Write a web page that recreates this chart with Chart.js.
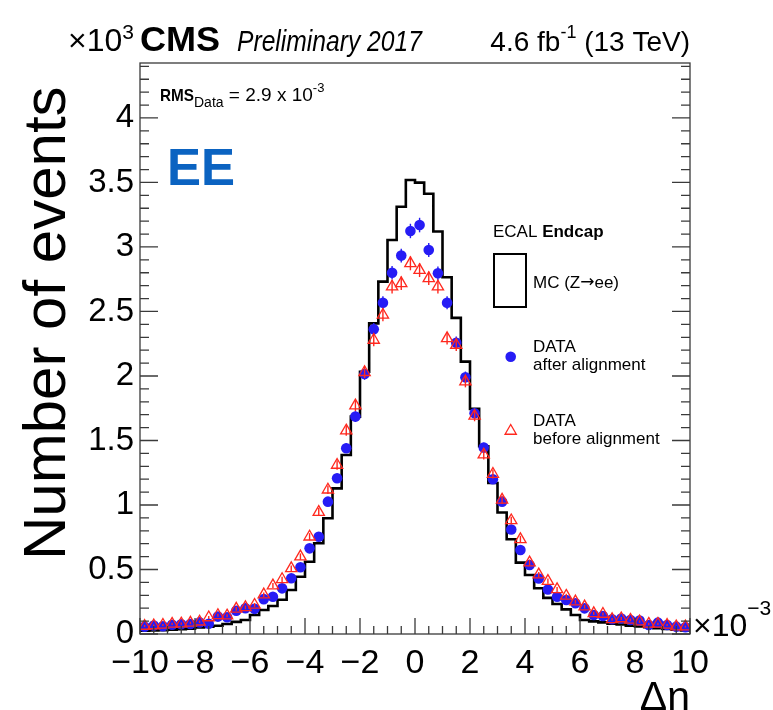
<!DOCTYPE html>
<html><head><meta charset="utf-8">
<script src="https://cdn.jsdelivr.net/npm/chart.js@4/dist/chart.umd.min.js"></script>
<style>html,body{margin:0;padding:0;background:#fff;} canvas{display:block;}</style>
</head><body>
<canvas id="c" width="773" height="710"></canvas>
<script>
// ---- binning (Δη in units of 10^-3) ----
const BIN_LOW = -10;
const BIN_HIGH = 10;
const N_BINS = 60;

// ---- series values (events, in units of 10^3) ----
const mcZee = [
  0.026, 0.028, 0.030, 0.034, 0.038, 0.042, 0.050, 0.056, 0.064, 0.078,
  0.094, 0.109, 0.147, 0.186, 0.217, 0.266, 0.341, 0.444, 0.560, 0.703,
  0.897, 1.129, 1.388, 1.685, 2.033, 2.408, 2.731, 3.054, 3.312, 3.519,
  3.499, 3.413, 3.120, 2.765, 2.450, 2.111, 1.745, 1.455, 1.170, 0.942,
  0.734, 0.553, 0.457, 0.355, 0.280, 0.233, 0.191, 0.147, 0.109, 0.098,
  0.090, 0.080, 0.074, 0.065, 0.058, 0.052, 0.045, 0.040, 0.034, 0.028
];
const dataAfter = [
  0.057, 0.065, 0.060, 0.072, 0.075, 0.078, 0.090, 0.080, 0.135, 0.130,
  0.180, 0.200, 0.195, 0.270, 0.289, 0.354, 0.432, 0.517, 0.664, 0.754,
  1.026, 1.207, 1.440, 1.685, 2.015, 2.362, 2.568, 2.800, 2.933, 3.124,
  3.170, 2.977, 2.796, 2.568, 2.258, 1.990, 1.711, 1.445, 1.200, 1.026,
  0.810, 0.651, 0.535, 0.430, 0.345, 0.289, 0.264, 0.238, 0.199, 0.147,
  0.140, 0.114, 0.120, 0.109, 0.104, 0.070, 0.088, 0.070, 0.057, 0.052
];
const dataBefore = [
  0.062, 0.066, 0.070, 0.078, 0.080, 0.086, 0.095, 0.128, 0.145, 0.142,
  0.195, 0.206, 0.225, 0.305, 0.375, 0.424, 0.509, 0.600, 0.754, 0.945,
  1.118, 1.310, 1.576, 1.770, 2.029, 2.279, 2.473, 2.692, 2.718, 2.873,
  2.820, 2.757, 2.692, 2.292, 2.240, 1.956, 1.690, 1.390, 1.240, 1.040,
  0.880, 0.734, 0.553, 0.460, 0.410, 0.346, 0.295, 0.251, 0.212, 0.160,
  0.155, 0.114, 0.120, 0.109, 0.096, 0.078, 0.078, 0.070, 0.057, 0.057
];

// ---- axis ticks ----
const xTickValues = [-10, -8, -6, -4, -2, 0, 2, 4, 6, 8, 10];
const yTickValues = [0, 0.5, 1, 1.5, 2, 2.5, 3, 3.5, 4];
const Y_MAX = 4.426;

// ---- derived tables for the library ----
const binW = (BIN_HIGH - BIN_LOW) / N_BINS;
const edges = Array.from({length: N_BINS + 1}, (_, k) => BIN_LOW + k * binW);
const centers = Array.from({length: N_BINS}, (_, k) => BIN_LOW + (k + 0.5) * binW);
const mcSteps = edges.map((e, k) => ({x: e, y: mcZee[Math.min(k, N_BINS - 1)]}));
const afterPts = centers.map((c, k) => ({x: c, y: dataAfter[k]}));
const beforePts = centers.map((c, k) => ({x: c, y: dataBefore[k]}));

const FONT = "'Liberation Sans', Arial, Helvetica, sans-serif";
const BLUE = 'rgb(38, 28, 245)';
const RED = 'rgb(255, 40, 30)';

function drawSeg(ctx, segs, x, y) {
  let cx = x;
  for (const s of segs) {
    ctx.save();
    ctx.font = s.font;
    ctx.fillStyle = s.color || '#000';
    const sx = s.sx || 1;
    ctx.translate(cx, y + (s.dy || 0));
    ctx.scale(sx, 1);
    ctx.textBaseline = 'alphabetic';
    ctx.textAlign = 'left';
    ctx.fillText(s.t, 0, 0);
    cx += ctx.measureText(s.t).width * sx;
    ctx.restore();
  }
  return cx;
}
function segWidth(ctx, segs) {
  let w = 0;
  for (const s of segs) { ctx.save(); ctx.font = s.font; w += ctx.measureText(s.t).width * (s.sx || 1); ctx.restore(); }
  return w;
}

const bgPlugin = {
  id: 'bg',
  beforeDraw(chart) {
    const ctx = chart.ctx;
    ctx.save(); ctx.fillStyle = '#fff'; ctx.fillRect(0, 0, chart.width, chart.height); ctx.restore();
  }
};

const errPlugin = {
  id: 'errbars',
  beforeDatasetDraw(chart, args) {
    const ds = chart.data.datasets[args.index];
    if (!ds.errColor) return;
    const ctx = chart.ctx, xs = chart.scales.x, ys = chart.scales.y;
    ctx.save();
    ctx.strokeStyle = ds.errColor;
    ctx.lineWidth = 1.4;
    ds.data.forEach(p => {
      const e = Math.sqrt(p.y * 1000) / 1000;
      const px = xs.getPixelForValue(p.x);
      ctx.beginPath();
      ctx.moveTo(px, ys.getPixelForValue(p.y - e));
      ctx.lineTo(px, ys.getPixelForValue(p.y + e));
      ctx.stroke();
    });
    ctx.restore();
  }
};

const framePlugin = {
  id: 'frame',
  afterDatasetsDraw(chart) {
    const {ctx, chartArea: a, scales: {x, y}} = chart;
    ctx.save();
    ctx.strokeStyle = '#3a3a3a';
    ctx.lineWidth = 1.3;
    ctx.strokeRect(a.left, a.top, a.right - a.left, a.bottom - a.top);
    ctx.beginPath();
    for (let i = 0; i <= 40; i++) {
      const v = BIN_LOW + i * 0.5;
      const major = i % 4 === 0;
      const px = x.getPixelForValue(v);
      ctx.moveTo(px, a.bottom);
      ctx.lineTo(px, a.bottom - (major ? 16 : 8));
    }
    for (let i = 0; i <= 44; i++) {
      const v = i * 0.1;
      const major = i % 5 === 0;
      const py = y.getPixelForValue(v);
      const len = major ? 18 : 9;
      ctx.moveTo(a.left, py); ctx.lineTo(a.left + len, py);
      ctx.moveTo(a.right, py); ctx.lineTo(a.right - len, py);
    }
    ctx.stroke();
    ctx.restore();
  }
};

const textPlugin = {
  id: 'texts',
  afterDraw(chart) {
    const ctx = chart.ctx;
    ctx.save();
    // ×10^3 multiplier and header
    drawSeg(ctx, [{t: '×10', font: `32px ${FONT}`}, {t: '3', font: `21px ${FONT}`, dy: -12}], 68, 51);
    drawSeg(ctx, [{t: 'CMS', font: `bold 35px ${FONT}`, sx: 1.03}], 140, 51);
    drawSeg(ctx, [{t: 'Preliminary 2017', font: `italic 29px ${FONT}`, sx: 0.85}], 237, 51);
    const lumi = [{t: '4.6 fb', font: `28px ${FONT}`}, {t: '-1', font: `18px ${FONT}`, dy: -13}, {t: ' (13 TeV)', font: `28px ${FONT}`}];
    drawSeg(ctx, lumi, 690 - segWidth(ctx, lumi), 51);
    // RMS
    drawSeg(ctx, [
      {t: 'RMS', font: `bold 17px ${FONT}`, sx: 0.9},
      {t: 'Data', font: `14px ${FONT}`, dy: 6},
      {t: ' = 2.9 x 10', font: `19px ${FONT}`},
      {t: '-3', font: `13px ${FONT}`, dy: -9}
    ], 160, 101);
    // EE
    drawSeg(ctx, [{t: 'EE', font: `bold 51px ${FONT}`, color: '#0b63c1'}], 167, 185);
    // legend
    drawSeg(ctx, [{t: 'ECAL ', font: `17px ${FONT}`}, {t: 'Endcap', font: `bold 17px ${FONT}`}], 493, 237);
    ctx.strokeStyle = '#000'; ctx.lineWidth = 2;
    ctx.strokeRect(494, 254, 32, 53);
    drawSeg(ctx, [
      {t: 'MC (Z', font: `17px ${FONT}`},
      {t: '\u2192', font: `17px 'DejaVu Sans', sans-serif`, dy: -1},
      {t: 'ee)', font: `17px ${FONT}`}
    ], 533, 288);
    ctx.fillStyle = BLUE;
    ctx.beginPath(); ctx.arc(510.7, 356.7, 5.3, 0, Math.PI * 2); ctx.fill();
    drawSeg(ctx, [{t: 'DATA', font: `17px ${FONT}`}], 533, 352);
    drawSeg(ctx, [{t: 'after alignment', font: `17px ${FONT}`}], 533, 370);
    ctx.strokeStyle = RED; ctx.lineWidth = 1.3;
    ctx.beginPath();
    const r = 6.5, cx = 510.7, cy = 431;
    for (let i = 0; i < 3; i++) {
      const ang = -Math.PI / 2 + i * 2 * Math.PI / 3;
      const px = cx + r * Math.cos(ang), py = cy + r * Math.sin(ang);
      if (i === 0) ctx.moveTo(px, py); else ctx.lineTo(px, py);
    }
    ctx.closePath(); ctx.stroke();
    drawSeg(ctx, [{t: 'DATA', font: `17px ${FONT}`}], 533, 426);
    drawSeg(ctx, [{t: 'before alignment', font: `17px ${FONT}`}], 533, 444);
    // x multiplier
    drawSeg(ctx, [{t: '×10', font: `32px ${FONT}`}, {t: '\u22123', font: `21px ${FONT}`, dy: -21}], 693, 636);
    // axis titles
    ctx.fillStyle = '#000';
    ctx.font = `41px ${FONT}`;
    ctx.textAlign = 'right'; ctx.textBaseline = 'alphabetic';
    ctx.fillText('\u0394\u03b7', 690, 710);
    ctx.save();
    ctx.translate(65, 560);
    ctx.rotate(-Math.PI / 2);
    ctx.font = `60px ${FONT}`;
    ctx.textAlign = 'left';
    ctx.fillText('Number of events', 0, 0);
    ctx.restore();
    ctx.restore();
  }
};

new Chart(document.getElementById('c'), {
  type: 'scatter',
  data: {
    datasets: [
      {
        label: 'DATA before alignment', data: beforePts, order: 0,
        pointStyle: 'triangle', pointRadius: 6.5, pointBackgroundColor: 'rgba(0,0,0,0)',
        pointBorderColor: RED, pointBorderWidth: 1.3, showLine: false, errColor: RED
      },
      {
        label: 'DATA after alignment', data: afterPts, order: 1,
        pointStyle: 'circle', pointRadius: 5.3, pointBackgroundColor: BLUE,
        pointBorderColor: BLUE, pointBorderWidth: 0, showLine: false, errColor: BLUE
      },
      {
        type: 'line', label: 'MC (Z\u2192ee)', data: mcSteps, order: 2,
        stepped: 'before', borderColor: '#000', borderWidth: 2.6, pointRadius: 0,
        fill: false, tension: 0
      }
    ]
  },
  options: {
    responsive: false,
    animation: false,
    devicePixelRatio: 1,
    layout: {padding: {left: 0, right: 83, top: 63, bottom: 0}},
    plugins: {legend: {display: false}, tooltip: {enabled: false}},
    scales: {
      x: {
        type: 'linear', min: BIN_LOW, max: BIN_HIGH,
        grid: {display: false, drawTicks: false}, border: {display: false},
        afterBuildTicks: s => { s.ticks = xTickValues.map(v => ({value: v})); },
        ticks: {
          autoSkip: false, maxRotation: 0, padding: 9, color: '#000',
          font: {family: FONT, size: 34},
          callback: v => (v < 0 ? '\u2212' + Math.abs(v) : String(v))
        },
        afterFit: s => { s.height = 76; s.paddingLeft = 0; s.paddingRight = 0; }
      },
      y: {
        type: 'linear', min: 0, max: Y_MAX,
        grid: {display: false, drawTicks: false}, border: {display: false},
        afterBuildTicks: s => { s.ticks = yTickValues.map(v => ({value: v})); },
        ticks: {
          autoSkip: false, padding: 6, color: '#000',
          font: {family: FONT, size: 33},
          callback: v => String(v)
        },
        afterFit: s => { s.width = 140; s.paddingTop = 0; s.paddingBottom = 0; }
      }
    }
  },
  plugins: [bgPlugin, errPlugin, framePlugin, textPlugin]
});
</script>
</body></html>
